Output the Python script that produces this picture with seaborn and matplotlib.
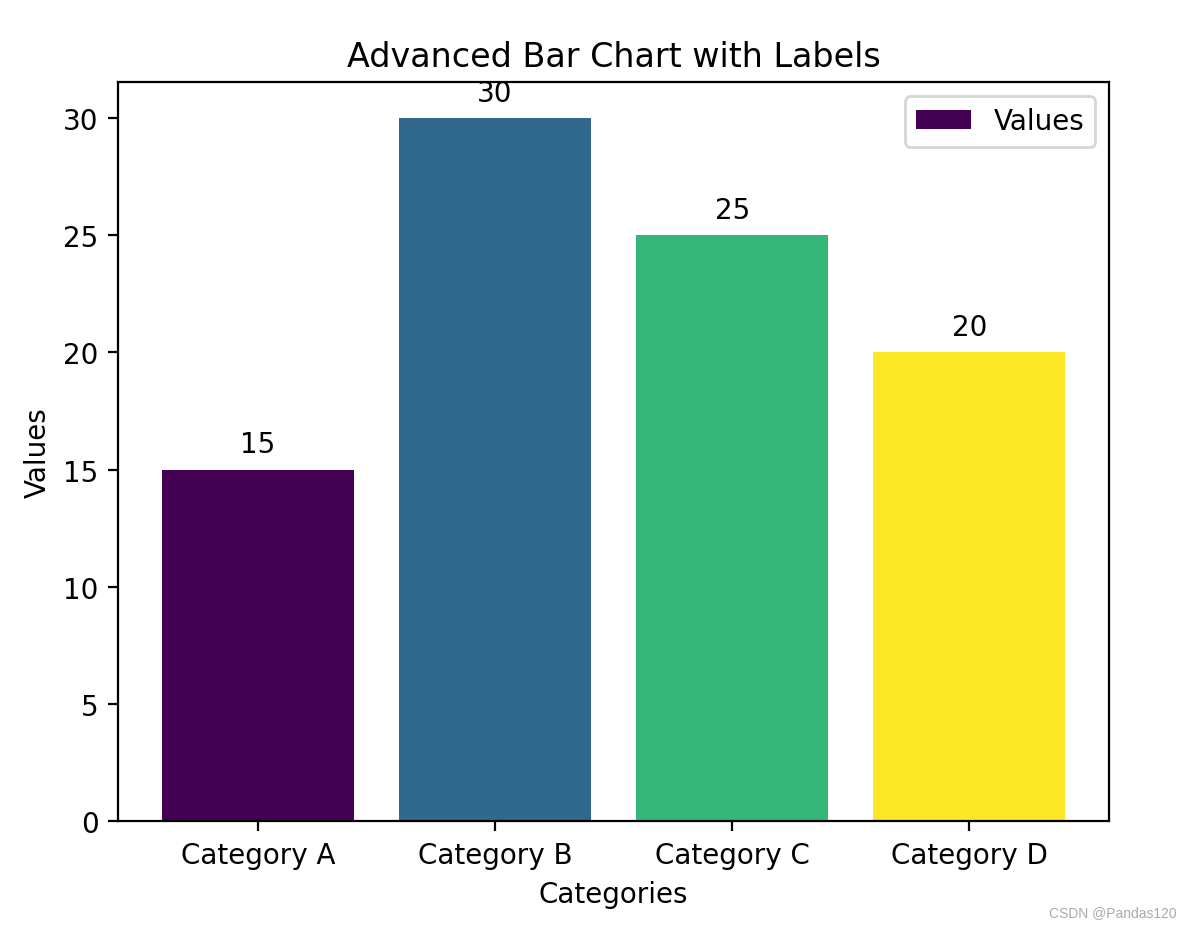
import matplotlib
matplotlib.use("Agg")
import matplotlib.pyplot as plt
import seaborn as sns
import pandas as pd

categories = ["Category A", "Category B", "Category C", "Category D"]
values = [15, 30, 25, 20]

df = pd.DataFrame({"Categories": categories, "Values": values})
colors = sns.color_palette("viridis", as_cmap=True)([0.0, 1/3, 2/3, 1.0])
palette = dict(zip(categories, colors))

fig = plt.figure(figsize=(5.96, 4.64), dpi=200)
ax = fig.add_axes([0.099, 0.1137, 0.8315, 0.7964])

sns.barplot(data=df, x="Categories", y="Values", hue="Categories",
            palette=palette, legend=False, width=0.81, saturation=1, ax=ax)

for c in ax.containers:
    ax.bar_label(c, padding=4, fontsize=10)

ax.set_xlim(-0.59, 3.59)
ax.set_ylim(0, 31.5)
ax.set_title("Advanced Bar Chart with Labels", fontsize=12)
ax.set_xlabel("Categories", fontsize=10)
ax.set_ylabel("Values", fontsize=10)
ax.legend([ax.containers[0]], ["Values"], loc="upper right")

fig.text(0.987, 0.009, "CSDN @Pandas120", ha="right", va="bottom",
         fontsize=5.0, color="#aaaaaa", family="Liberation Sans")

fig.savefig("out.png", dpi=200)
